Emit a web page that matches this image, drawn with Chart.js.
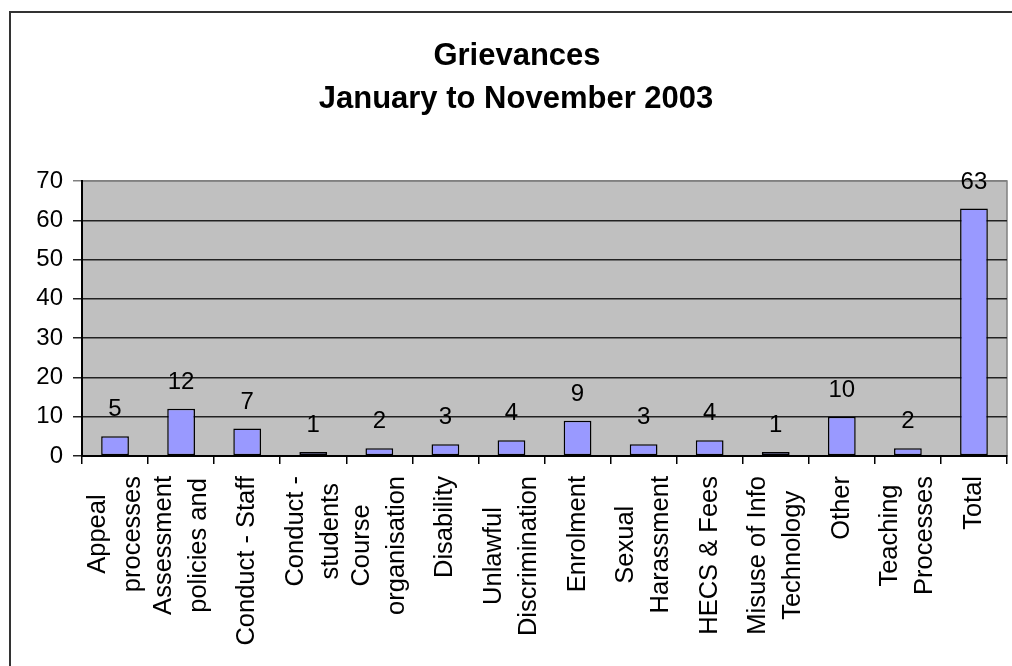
<!DOCTYPE html>
<html>
<head>
<meta charset="utf-8">
<script src="https://cdn.jsdelivr.net/npm/chart.js@4"></script>
<style>
  body { margin: 0; background: #fff; }
  #frame {
    position: absolute; left: 9px; top: 11px; width: 1100px; height: 800px;
    border-left: 2px solid #333; border-top: 2px solid #333;
  }
  #wrap { position: absolute; left: 0; top: 0; width: 1012px; height: 666px; }
</style>
</head>
<body>
<div id="frame"></div>
<div id="wrap"><canvas id="chart"></canvas></div>
<script>
'use strict';

const FONT = '"Liberation Sans", Arial, sans-serif';

const titleLines = ['Grievances', 'January to November 2003'];

const categories = [
  ['Appeal', 'processes'],
  ['Assessment', 'policies and'],
  ['Conduct - Staff'],
  ['Conduct -', 'students'],
  ['Course', 'organisation'],
  ['Disability'],
  ['Unlawful', 'Discrimination'],
  ['Enrolment'],
  ['Sexual', 'Harassment'],
  ['HECS & Fees'],
  ['Misuse of Info', 'Technology'],
  ['Other'],
  ['Teaching', 'Processes'],
  ['Total']
];

const grievances = [5, 12, 7, 1, 2, 3, 4, 9, 3, 4, 1, 10, 2, 63];

const yTicks = [0, 10, 20, 30, 40, 50, 60, 70];

// grey plot area with a thin grey border, like the old Excel charts
const plotBackground = {
  id: 'plotBackground',
  beforeDraw(chart) {
    const { ctx, chartArea: a } = chart;
    ctx.save();
    ctx.fillStyle = '#C0C0C0';
    ctx.fillRect(a.left, a.top, a.right - a.left, a.bottom - a.top);
    ctx.strokeStyle = '#808080';
    ctx.lineWidth = 1.5;
    ctx.strokeRect(a.left, a.top, a.right - a.left, a.bottom - a.top);
    ctx.restore();
  }
};

const titleText = {
  id: 'titleText',
  afterDraw(chart) {
    const ctx = chart.ctx;
    ctx.save();
    ctx.fillStyle = '#000';
    ctx.font = 'bold 31px ' + FONT;
    ctx.textAlign = 'center';
    ctx.textBaseline = 'middle';
    ctx.fillText(titleLines[0], 517, 56);
    ctx.fillText(titleLines[1], 516, 99);
    ctx.restore();
  }
};

const valueLabels = {
  id: 'valueLabels',
  afterDatasetsDraw(chart) {
    const ctx = chart.ctx;
    const meta = chart.getDatasetMeta(0);
    ctx.save();
    ctx.fillStyle = '#000';
    ctx.font = '24px ' + FONT;
    ctx.textAlign = 'center';
    ctx.textBaseline = 'alphabetic';
    meta.data.forEach((bar, i) => {
      ctx.fillText(String(grievances[i]), bar.x, bar.y - 20);
    });
    ctx.restore();
  }
};

// vertical category labels, lines centred on each other
const categoryLabels = {
  id: 'categoryLabels',
  afterDraw(chart) {
    const ctx = chart.ctx;
    const xScale = chart.scales.x;
    const top = xScale.top + 20;
    const lineGap = 35;
    ctx.save();
    ctx.fillStyle = '#000';
    ctx.font = '25.5px ' + FONT;
    ctx.textAlign = 'center';
    ctx.textBaseline = 'middle';
    categories.forEach((lines, i) => {
      const x = xScale.getPixelForValue(i);
      let maxW = 0;
      lines.forEach(l => { maxW = Math.max(maxW, ctx.measureText(l).width); });
      lines.forEach((l, j) => {
        const off = (j - (lines.length - 1) / 2) * lineGap;
        ctx.save();
        ctx.translate(x + off, top + maxW / 2);
        ctx.rotate(-Math.PI / 2);
        ctx.fillText(l, 0, 0);
        ctx.restore();
      });
    });
    ctx.restore();
  }
};

new Chart(document.getElementById('chart'), {
  type: 'bar',
  data: {
    labels: categories.map(c => c.join(' ')),
    datasets: [{
      data: grievances,
      backgroundColor: '#9999FF',
      borderColor: '#000',
      borderWidth: 1.5,
      borderSkipped: false,
      barPercentage: 0.42,
      categoryPercentage: 1
    }]
  },
  options: {
    responsive: true,
    maintainAspectRatio: false,
    animation: false,
    layout: { padding: { top: 181, right: 5, left: 0, bottom: 0 } },
    plugins: {
      legend: { display: false },
      title: { display: false },
      tooltip: { enabled: false }
    },
    scales: {
      x: {
        grid: { offset: true, drawOnChartArea: false, tickLength: 8, color: '#000', lineWidth: 1.5 },
        border: { color: '#000', width: 2 },
        ticks: { display: false },
        afterFit: s => { s.height = 210; }
      },
      y: {
        min: yTicks[0],
        max: yTicks[yTicks.length - 1],
        afterBuildTicks: s => { s.ticks = yTicks.map(v => ({ value: v })); },
        ticks: { color: '#000', font: { size: 24, family: FONT }, padding: 10 },
        grid: {
          color: c => (c.tick && c.tick.value === 70 ? '#808080' : '#222'),
          lineWidth: 1.5,
          tickLength: 9
        },
        border: { color: '#000', width: 2 },
        afterFit: s => { s.width = 82; }
      }
    }
  },
  plugins: [plotBackground, titleText, valueLabels, categoryLabels]
});
</script>
</body>
</html>
